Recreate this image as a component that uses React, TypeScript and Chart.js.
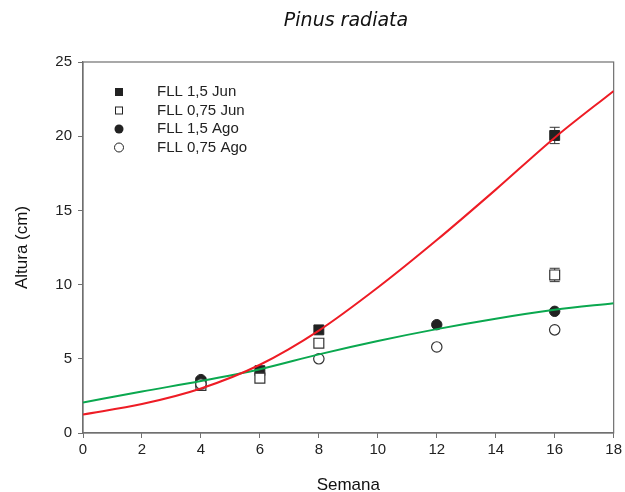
import React, { useEffect, useRef } from 'react';
import Chart from 'chart.js/auto';

const weeksJun = [4, 6, 8, 16];
const jun15 = [3.4, 4.2, 6.95, 20.05];
const jun15Err = [0, 0, 0, 0.55];
const jun075 = [3.2, 3.7, 6.05, 10.65];
const jun075Err = [0, 0, 0, 0.45];
const weeksAgo15 = [4, 12, 16];
const ago15 = [3.6, 7.3, 8.2];
const weeksAgo075 = [4, 8, 12, 16];
const ago075 = [3.3, 5.0, 5.8, 6.95];
const curveX = [0, 2, 4, 6, 8, 10, 12, 14, 16, 18];
const curveRed = [1.25, 1.95, 3.0, 4.6, 6.9, 9.8, 13.0, 16.4, 19.9, 23.05];
const curveGreen = [2.05, 2.8, 3.5, 4.3, 5.3, 6.2, 7.0, 7.7, 8.3, 8.75];
const legendLabels = ['FLL 1,5 Jun', 'FLL 0,75 Jun', 'FLL 1,5 Ago', 'FLL 0,75 Ago'];
const chartTitle = 'Pinus radiata';
const xTitle = 'Semana';
const yTitle = 'Altura (cm)';

const pts = (xs: number[], ys: number[]) => xs.map((x, i) => ({ x, y: ys[i] }));

const FONT = '"Liberation Sans", Arial, sans-serif';

export default function App() {
  const ref = useRef<HTMLCanvasElement | null>(null);
  useEffect(() => {
    if (!ref.current) return;
    const errorSets: { xs: number[]; ys: number[]; errs: number[] }[] = [
      { xs: weeksJun, ys: jun15, errs: jun15Err },
      { xs: weeksJun, ys: jun075, errs: jun075Err },
    ];
    const extras = {
      id: 'extras',
      beforeDatasetsDraw(chart: any) {
        const { ctx, chartArea: ca, scales } = chart;
        ctx.save();
        ctx.strokeStyle = '#707070';
        ctx.lineWidth = 1.2;
        ctx.strokeRect(ca.left, ca.top, ca.right - ca.left, ca.bottom - ca.top);
        // error bars
        ctx.strokeStyle = '#333';
        ctx.lineWidth = 1;
        errorSets.forEach((s) => {
          s.xs.forEach((x, i) => {
            const e = s.errs[i];
            if (!e) return;
            const px = scales.x.getPixelForValue(x);
            const y1 = scales.y.getPixelForValue(s.ys[i] + e);
            const y2 = scales.y.getPixelForValue(s.ys[i] - e);
            ctx.beginPath();
            ctx.moveTo(px, y1); ctx.lineTo(px, y2);
            ctx.moveTo(px - 5, y1); ctx.lineTo(px + 5, y1);
            ctx.moveTo(px - 5, y2); ctx.lineTo(px + 5, y2);
            ctx.stroke();
          });
        });
        ctx.restore();
      },
      afterDraw(chart: any) {
        const { ctx, chartArea: ca } = chart;
        ctx.save();
        // title
        ctx.fillStyle = '#111';
        ctx.font = 'italic 19px "DejaVu Sans", Verdana, sans-serif';
        ctx.textAlign = 'center';
        ctx.textBaseline = 'middle';
        ctx.fillText(chartTitle, 346, 21);
        // legend
        const lx = ca.left + 36;
        const ty = ca.top + 30;
        const dy = 18.5;
        ctx.font = '15px ' + FONT;
        ctx.textAlign = 'left';
        legendLabels.forEach((lab, i) => {
          const y = ty + i * dy;
          ctx.lineWidth = 1;
          ctx.strokeStyle = '#222';
          if (i < 2) {
            if (i === 0) { ctx.fillStyle = '#222'; ctx.fillRect(lx - 4, y - 4, 8, 8); }
            else { ctx.fillStyle = '#fff'; ctx.fillRect(lx - 3.5, y - 3.5, 7, 7); ctx.strokeRect(lx - 3.5, y - 3.5, 7, 7); }
          } else {
            ctx.beginPath();
            ctx.arc(lx, y, 4.5, 0, Math.PI * 2);
            if (i === 2) { ctx.fillStyle = '#222'; ctx.fill(); }
            else { ctx.fillStyle = '#fff'; ctx.fill(); ctx.stroke(); }
          }
          ctx.fillStyle = '#222';
          ctx.fillText(lab, lx + 38, y);
        });
        ctx.restore();
      },
    };

    const hollow = { backgroundColor: '#fff', borderColor: '#333', borderWidth: 1.2 };
    const filled = { backgroundColor: '#222', borderColor: '#222', borderWidth: 1 };

    const chart = new Chart(ref.current, {
      type: 'scatter',
      data: {
        datasets: [
          { type: 'line', data: pts(curveX, curveRed), borderColor: '#ee1c25', borderWidth: 2, pointRadius: 0, cubicInterpolationMode: 'monotone', showLine: true, order: 0 } as any,
          { type: 'line', data: pts(curveX, curveGreen), borderColor: '#0aa84f', borderWidth: 2, pointRadius: 0, cubicInterpolationMode: 'monotone', showLine: true, order: 1 } as any,
          { label: legendLabels[0], data: pts(weeksJun, jun15), pointStyle: 'rect', pointRadius: 7, ...filled, order: 5 },
          { label: legendLabels[1], data: pts(weeksJun, jun075), pointStyle: 'rect', pointRadius: 7, ...hollow, order: 4 },
          { label: legendLabels[2], data: pts(weeksAgo15, ago15), pointStyle: 'circle', pointRadius: 5.2, ...filled, order: 3 },
          { label: legendLabels[3], data: pts(weeksAgo075, ago075), pointStyle: 'circle', pointRadius: 5.2, ...hollow, order: 2 },
        ],
      },
      plugins: [extras],
      options: {
        animation: false,
        responsive: true,
        maintainAspectRatio: false,
        layout: { padding: { top: 62, right: 10, left: 0, bottom: 0 } },
        plugins: { legend: { display: false }, tooltip: { enabled: false }, title: { display: false } },
        scales: {
          x: {
            type: 'linear', min: 0, max: 18,
            ticks: { stepSize: 2, color: '#222', font: { family: FONT, size: 15 }, padding: 3, maxRotation: 0 },
            grid: { drawOnChartArea: false, drawTicks: true, tickLength: 5, color: '#707070' },
            border: { display: true, color: '#707070', width: 1.2 },
            title: { display: true, text: xTitle, color: '#111', font: { family: FONT, size: 17, lineHeight: 0.8 }, padding: { top: 0, bottom: 0 } },
            afterFit: (s: any) => { s.height = 59; },
          },
          y: {
            min: 0, max: 25,
            ticks: { stepSize: 5, color: '#222', font: { family: FONT, size: 15 }, padding: 6 },
            grid: { drawOnChartArea: false, drawTicks: true, tickLength: 5, color: '#707070' },
            border: { display: true, color: '#707070', width: 1.2 },
            title: { display: true, text: yTitle, color: '#111', font: { family: FONT, size: 17, lineHeight: 1 }, padding: { top: 14, bottom: 0 } },
            afterFit: (s: any) => { s.width = 83; },
          },
        },
      } as any,
    });
    return () => chart.destroy();
  }, []);
  return (
    <div style={{ position: 'fixed', left: 0, top: 0, width: 625, height: 492, background: '#fff' }}>
      <canvas ref={ref} />
    </div>
  );
}
